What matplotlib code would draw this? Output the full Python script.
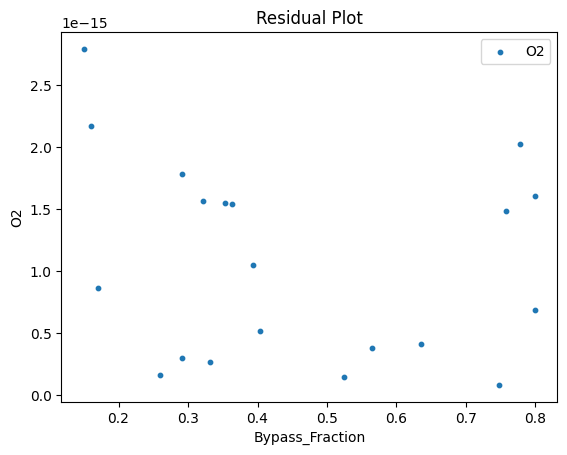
import numpy as np
import matplotlib
matplotlib.use("Agg")
import matplotlib.pyplot as plt

bypass_fraction = [0.150, 0.160, 0.170, 0.260, 0.291, 0.291, 0.322, 0.332, 0.353, 0.363,
                   0.393, 0.403, 0.525, 0.565, 0.636, 0.748, 0.758, 0.778, 0.799, 0.799]
o2_residual = [2.79, 2.17, 0.86, 0.16, 1.78, 0.30, 1.56, 0.26, 1.55, 1.54,
               1.05, 0.51, 0.14, 0.38, 0.41, 0.08, 1.48, 2.02, 1.60, 0.68]

x = np.array(bypass_fraction)
y = np.array(o2_residual) * 1e-15

fig, ax = plt.subplots(figsize=(6.4, 4.8), dpi=100)
ax.scatter(x, y, s=10, label="O2")
ax.set_title("Residual Plot")
ax.set_xlabel("Bypass_Fraction")
ax.set_ylabel("O2")
ax.legend()
fig.savefig("out.png", bbox_inches="tight")
